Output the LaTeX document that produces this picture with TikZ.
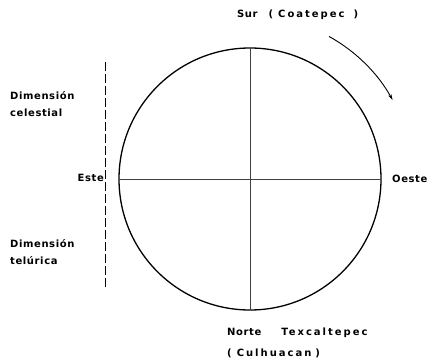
\documentclass[tikz,border=0pt]{standalone}
\usepackage{fontspec}
\setmainfont{DejaVu Sans}[LetterSpace=6]
\usetikzlibrary{arrows.meta, calc}
\newcommand{\ancho}[1]{{\addfontfeature{LetterSpace=20}#1}}

\begin{document}
\begin{tikzpicture}[x=1pt, y=-1pt, lbl/.style={font=\bfseries\fontsize{10}{12}\selectfont, inner sep=0pt}]
  \useasboundingbox (0,0) rectangle (435,363);
  \coordinate (O) at (250,179);
  \coordinate (N) at (250,48);
  \coordinate (S) at (250,310);
  \coordinate (W) at (119,179);
  \coordinate (E) at (381,179);
  \coordinate (T) at (105.5,62);
  \coordinate (U) at (105.5,289);
  \coordinate (Ar) at ($(O)+(-61:163)$);

  \draw[line width=1.3pt] (O) circle (131);
  \draw[line width=0.5pt, black!75] (N)--(S);
  \draw[line width=0.5pt, black!75] (W)--(E);
  \draw[line width=1.1pt, dash pattern=on 9pt off 3pt] (T)--(U);   % eje

  % sentido
  \draw[line width=0.9pt, -{Stealth[length=6pt, width=3.5pt]}] (Ar) arc[start angle=-61, end angle=-29, radius=163];

  \node[lbl, anchor=west] at (237,15) {Sur\hspace{1.1em}(\hspace{0.5em}\ancho{Coatepec}\hspace{0.9em})};
  \node[lbl, anchor=west] at (10,96) {Dimensión};
  \node[lbl, anchor=west] at (10,113) {celestial};
  \node[lbl, anchor=east] at (104,178) {Este};
  \node[lbl, anchor=west] at (392,179) {Oeste};
  \node[lbl, anchor=west] at (10,244) {Dimensión};
  \node[lbl, anchor=west] at (10,261) {telúrica};
  \node[lbl, anchor=west] at (227,333) {Norte\hspace{2em}\ancho{Texcaltepec}};
  \node[lbl, anchor=west] at (227,353) {(\hspace{0.5em}\ancho{Culhuacan}\hspace{0.4em})};
\end{tikzpicture}
\end{document}
